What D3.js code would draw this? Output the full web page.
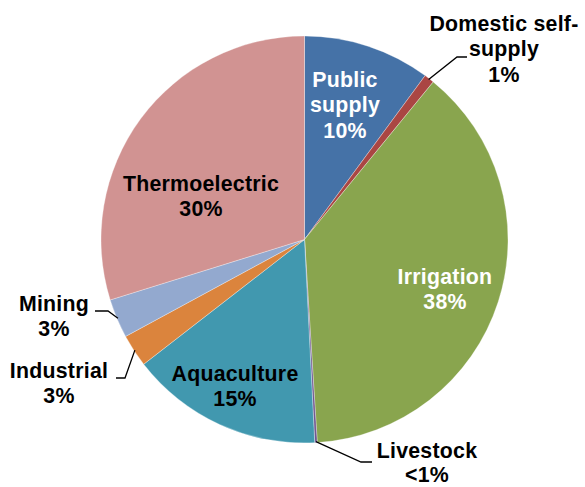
<!DOCTYPE html>
<html>
<head>
<meta charset="utf-8">
<script src="https://cdn.jsdelivr.net/npm/d3@7"></script>
<style>
  html, body { margin: 0; padding: 0; background: #fff; }
  svg { display: block; }
  text { font-family: "Liberation Sans", Arial, sans-serif; font-weight: bold; letter-spacing: 0.25px; }
</style>
</head>
<body>
<svg id="chart" width="585" height="487"></svg>
<script>
// Water withdrawals by category, percent of total (clockwise from 12 o'clock)
const categories = ["Public supply", "Domestic self-supply", "Irrigation", "Livestock",
                    "Aquaculture", "Industrial", "Mining", "Thermoelectric"];
const shares = [10.1, 0.8, 38.1, 0.2, 15.3, 2.6, 3.1, 29.8];
const sliceColors = ["#4572A7", "#AA4643", "#89A54E", "#71588F",
                     "#4198AF", "#DB843D", "#93A9CF", "#D19392"];
// label text broken into lines (percentage appended as last line)
const labelLines = [["Public", "supply"], ["Domestic self-", "supply"], ["Irrigation"], ["Livestock"],
                    ["Aquaculture"], ["Industrial"], ["Mining"], ["Thermoelectric"]];

// label placement: centre x, first baseline, line gap, text colour, optional leader elbow/end
const labelLayout = [
  { x: 345, y: 87,  gap: 25.4, fill: "#fff" },
  { x: 504, y: 31,  gap: 25.4, fill: "#000", leader: [[457, 57], [467, 57]] },
  { x: 445, y: 284, gap: 25.4, fill: "#fff" },
  { x: 427, y: 458, gap: 24,   fill: "#000", leader: [[361, 462], [372, 462]] },
  { x: 235, y: 381, gap: 25.4, fill: "#000" },
  { x: 59,  y: 378, gap: 25.4, fill: "#000", leader: [[125, 378], [116, 378]] },
  { x: 54,  y: 311, gap: 25.4, fill: "#000", leader: [[108, 311], [95, 311]] },
  { x: 201, y: 191, gap: 25.4, fill: "#000" }
];

const cx = 304.5, cy = 239.5, radius = 203.5;
const fontSize = 21.3;

const svg = d3.select("#chart");
const g = svg.append("g").attr("transform", `translate(${cx},${cy})`);

const pie = d3.pie().sort(null).value(d => d).startAngle(0).endAngle(2 * Math.PI);
const arcs = pie(shares);
const arc = d3.arc().innerRadius(0).outerRadius(radius);

g.selectAll("path.slice")
  .data(arcs)
  .join("path")
  .attr("class", "slice")
  .attr("d", arc)
  .attr("fill", (d, i) => sliceColors[i])
  .attr("stroke", "#ffffff")
  .attr("stroke-opacity", 0.45)
  .attr("stroke-width", 0.7)
  .attr("stroke-linejoin", "round");

function pctText(v) {
  return v < 0.5 ? "<1%" : Math.round(v) + "%";
}

// leader lines from slice edge to outside labels
arcs.forEach((d, i) => {
  const lay = labelLayout[i];
  if (!lay.leader) return;
  const mid = (d.startAngle + d.endAngle) / 2;
  const r0 = radius - 1;
  const start = [cx + r0 * Math.sin(mid), cy - r0 * Math.cos(mid)];
  const pts = [start].concat(lay.leader);
  svg.append("path")
    .attr("d", d3.line()(pts))
    .attr("fill", "none")
    .attr("stroke", "#000")
    .attr("stroke-width", 1.3);
});

// data labels
arcs.forEach((d, i) => {
  const lay = labelLayout[i];
  const lines = labelLines[i].concat([pctText(shares[i])]);
  const t = svg.append("text")
    .attr("text-anchor", "middle")
    .attr("font-size", fontSize)
    .attr("fill", lay.fill);
  lines.forEach((s, k) => {
    t.append("tspan")
      .attr("x", lay.x)
      .attr("y", lay.y + k * lay.gap)
      .text(s);
  });
});
</script>
</body>
</html>
